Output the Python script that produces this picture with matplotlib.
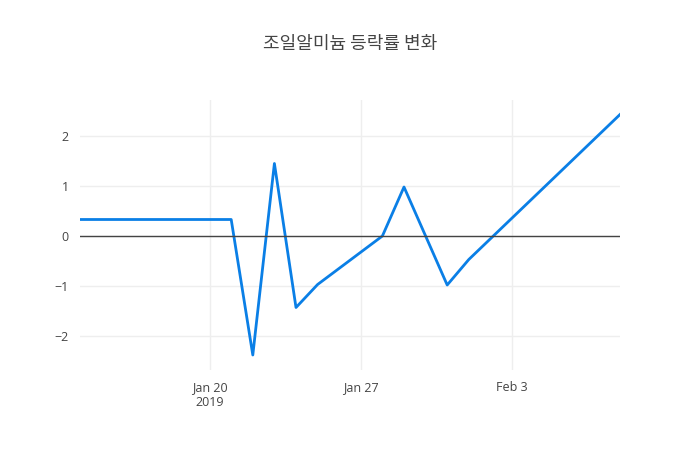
import matplotlib
matplotlib.use("Agg")
import matplotlib.pyplot as plt
import matplotlib.dates as mdates
import numpy as np

dates = np.array(["2019-01-14", "2019-01-21", "2019-01-22", "2019-01-23", "2019-01-24",
                  "2019-01-25", "2019-01-28", "2019-01-29", "2019-01-31", "2019-02-01",
                  "2019-02-08"], dtype="datetime64[D]")
values = [0.33, 0.33, -2.38, 1.45, -1.43, -0.97, 0.0, 0.98, -0.98, -0.47, 2.43]
title = "조일알미늄 등락률 변화"

plt.rcParams["font.family"] = ["Open Sans", "Noto Sans CJK KR", "DejaVu Sans"]

fig = plt.figure(figsize=(7, 4.5), dpi=100)
ax = fig.add_axes([80 / 700, 1 - 370 / 450, 540 / 700, 270 / 450])
ax.plot(dates.astype("datetime64[ms]").astype(object), values, color="#0a7fe6", lw=2)
ax.axhline(0, color="#444444", lw=1)

ax.set_xlim(mdates.date2num(np.datetime64("2019-01-14")), mdates.date2num(np.datetime64("2019-02-08")))
ax.set_ylim(-2.68, 2.72)
ax.set_yticks([-2, -1, 0, 1, 2])
ax.set_yticklabels(["−2", "−1", "0", "1", "2"])
ticks = [np.datetime64("2019-01-20"), np.datetime64("2019-01-27"), np.datetime64("2019-02-03")]
ax.set_xticks([mdates.date2num(t) for t in ticks])
ax.set_xticklabels(["Jan 20\n2019", "Jan 27", "Feb 3"])
ax.grid(True, color="#eeeeee", lw=1)
ax.set_axisbelow(True)
for s in ax.spines.values():
    s.set_visible(False)
ax.tick_params(length=0, colors="#444444", labelsize=9, pad=8)

fig.text(350 / 700, 1 - 44 / 450, title, ha="center", va="center", fontsize=13,
         color="#444444", family=["Noto Sans CJK KR", "DejaVu Sans"])
fig.savefig("out.png")
